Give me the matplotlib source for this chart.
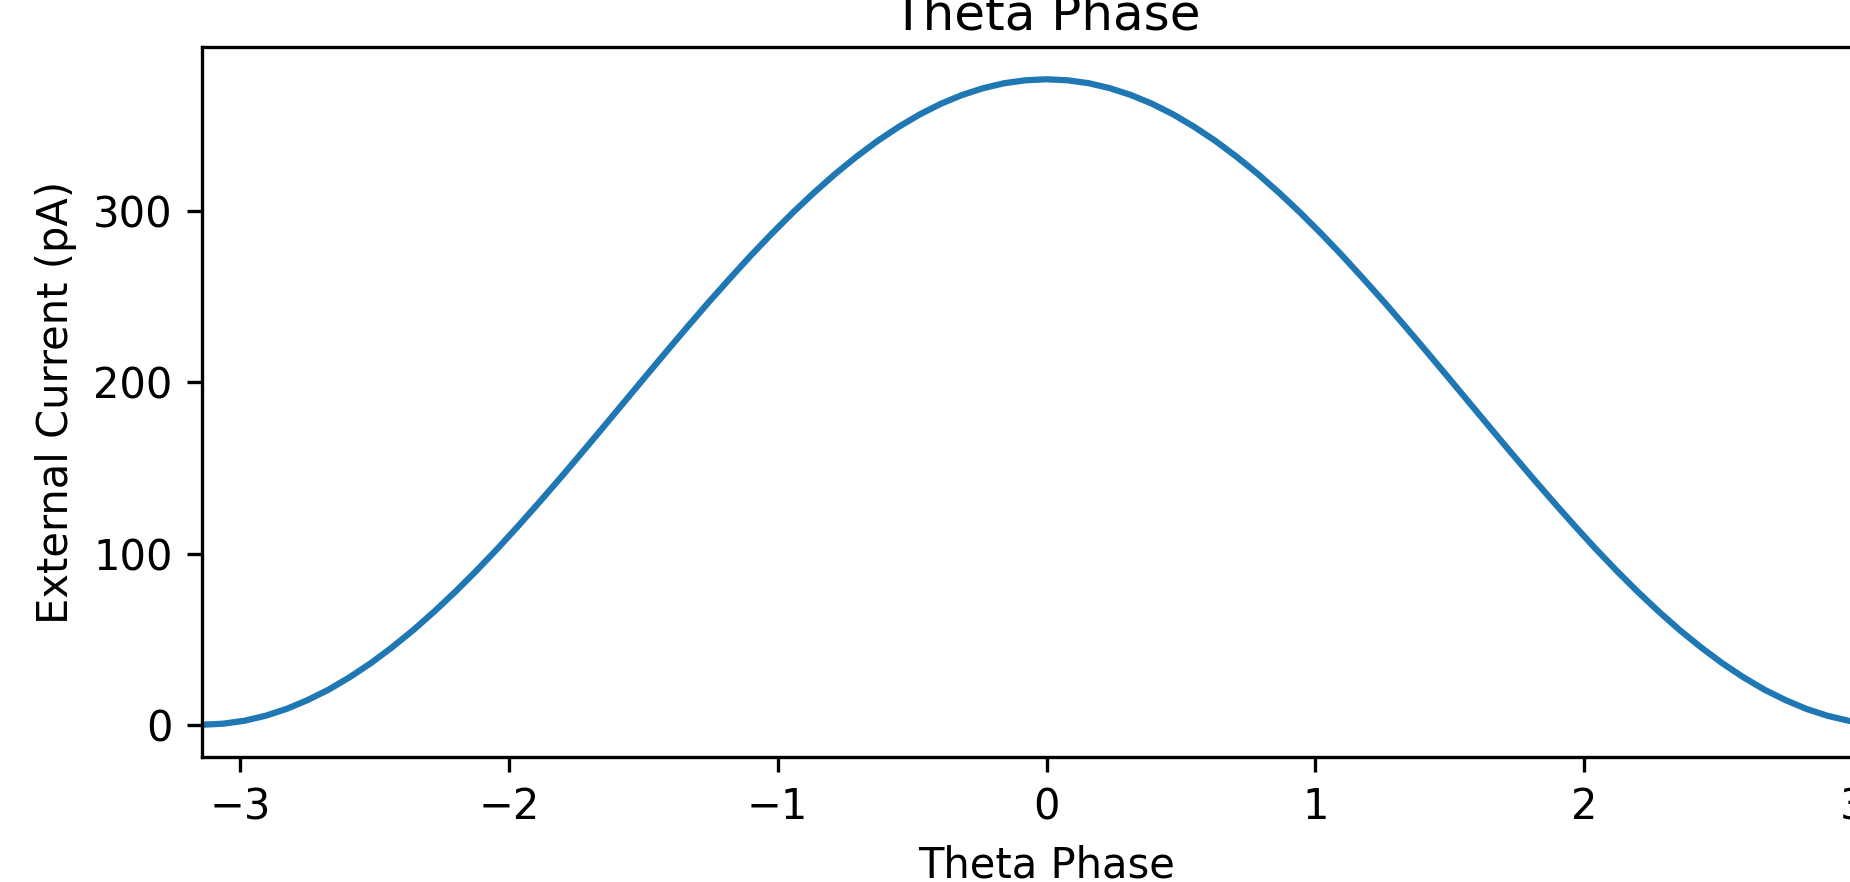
import numpy as np
import matplotlib
matplotlib.use("Agg")
import matplotlib.pyplot as plt

# Theta phase samples (radians) and external current (pA)
phase = np.linspace(-np.pi, np.pi, 81)
rising = [0.0, 0.6, 2.3, 5.2, 9.2, 14.4, 20.5, 27.8, 36.0, 45.2,
          55.2, 66.1, 77.7, 90.0, 102.9, 116.4, 130.3, 144.5, 159.0, 173.7,
          188.5, 203.3, 218.0, 232.5, 246.8, 260.6, 274.1, 287.0, 299.3, 310.9,
          321.8, 331.8, 341.0, 349.2, 356.5, 362.7, 367.8, 371.8, 374.7, 376.4]
peak = [377.0]
falling = [376.4, 374.7, 371.8, 367.8, 362.7, 356.5, 349.2, 341.0, 331.8, 321.8,
           310.9, 299.3, 287.0, 274.1, 260.6, 246.8, 232.5, 218.0, 203.3, 188.5,
           173.7, 159.0, 144.5, 130.3, 116.4, 102.9, 90.0, 77.7, 66.1, 55.2,
           45.2, 36.0, 27.8, 20.5, 14.4, 9.2, 5.2, 2.3, 0.6, 0.0]
current = rising + peak + falling
xticks = [-3, -2, -1, 0, 1, 2, 3]
yticks = [0, 100, 200, 300]

W, H, DPI = 1850, 882, 300
fig = plt.figure(figsize=(W / DPI, H / DPI), dpi=DPI)
ax = fig.add_axes([202 / W, 125 / H, (1891 - 202) / W, (835 - 125) / H])
ax.plot(phase, current, color="#1f77b4", linewidth=1.5)
ax.set_xlim(-np.pi, np.pi)
ax.set_xticks(xticks)
ax.set_yticks(yticks)
ax.set_xlabel("Theta Phase")
ax.set_ylabel("External Current (pA)")
ax.set_title("Theta Phase", pad=4.3)
fig.savefig("out.png", dpi=DPI)
